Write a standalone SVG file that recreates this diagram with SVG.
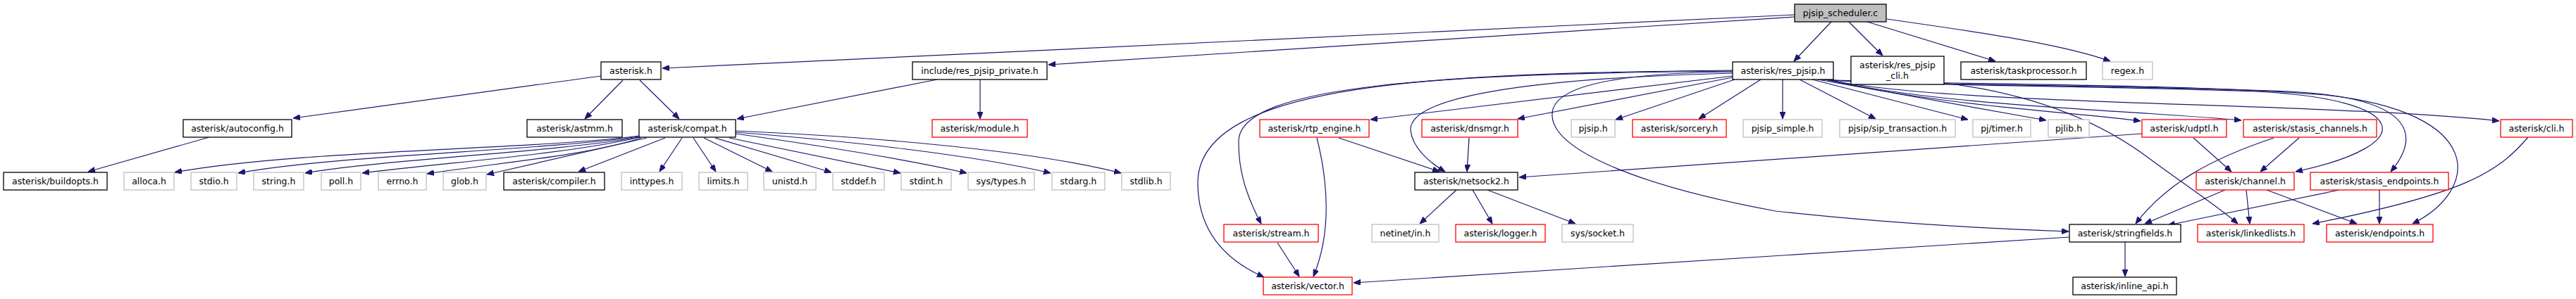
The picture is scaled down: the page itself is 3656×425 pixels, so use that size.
<svg xmlns="http://www.w3.org/2000/svg" width="3656" height="425" viewBox="0 0 3656 425">
<style>
text{font-family:"DejaVu Sans","Liberation Sans",sans-serif;font-size:12.5px;text-anchor:middle;fill:#000}
rect{fill:#fff;stroke-width:1.3}
.k rect{stroke:#000}
.g rect{stroke:#bfbfbf}
.r rect{stroke:#ff0000}
.root rect{fill:#bfbfbf;stroke:#000}
#edges path{fill:none;stroke:#191970;stroke-width:1.2;marker-end:url(#a)}
</style>
<defs>
<marker id="a" markerWidth="10" markerHeight="8" refX="10" refY="4" orient="auto" markerUnits="userSpaceOnUse"><path d="M0,0 L10,4 L0,8 z" fill="#191970" stroke="#191970" stroke-width="1"/></marker>
</defs>
<rect x="0" y="0" width="3656" height="425" style="fill:#fff;stroke:none"/>
<g id="edges">
<path d="M2547,21 L940,97"/>
<path d="M2547,24 L1488,92"/>
<path d="M2599,31 L2546,87"/>
<path d="M2624,31 L2672,79"/>
<path d="M2650,31 L2832,87"/>
<path d="M2678,27 C2780,42 2920,60 2995,87"/>
<path d="M853,108 L416,168"/>
<path d="M884,114 L830,169"/>
<path d="M908,114 L964,169"/>
<path d="M1330,113 L1046,169"/>
<path d="M1391,113 L1391,169"/>
<path d="M297,195 L125,244"/>
<path d="M907,193 C760,213 420,213 248,245"/>
<path d="M907,194 C760,215 480,220 338,246"/>
<path d="M907,195 C780,217 560,225 433,246"/>
<path d="M908,195 C800,220 640,230 514,246"/>
<path d="M910,196 C830,222 700,232 606,247"/>
<path d="M918,196 L691,248"/>
<path d="M944,196 L821,244"/>
<path d="M968,196 L936,244"/>
<path d="M984,196 L1016,244"/>
<path d="M999,196 L1096,244"/>
<path d="M1015,196 L1180,245"/>
<path d="M1035,196 L1278,246"/>
<path d="M1044,190 C1150,205 1280,225 1372,246"/>
<path d="M1044,188 C1200,200 1380,220 1491,246"/>
<path d="M1044,186 C1250,195 1470,215 1591,246"/>
<path d="M2459,108 L1945,170"/>
<path d="M2459,110 L2154,169"/>
<path d="M2462,113 L2293,170"/>
<path d="M2499,113 L2411,169"/>
<path d="M2530,113 L2530,169"/>
<path d="M2554,113 L2662,169"/>
<path d="M2572,113 L2793,170"/>
<path d="M2580,113 L2904,171"/>
<path d="M2590,113 C2750,150 2950,160 3038,172"/>
<path d="M2593,113 C2750,150 3000,155 3181,171"/>
<path d="M2595,113 C2750,150 3300,145 3547,172"/>
<path d="M2585,113 C2700,122 3000,122 3200,130 C3420,140 3440,205 3258,244"/>
<path d="M2585,113 C2700,122 3000,120 3250,130 C3440,140 3430,200 3393,244"/>
<path d="M2585,113 C2700,120 3100,118 3300,135 C3530,160 3520,270 3424,318"/>
<path d="M2459,104 C2150,112 2000,140 2002,185 C2004,210 2030,232 2051,244"/>
<path d="M2459,102 C2280,104 2200,125 2203,165 C2206,215 2330,265 2520,300 C2700,320 2850,326 2936,329"/>
<path d="M2459,101 C2050,105 1760,120 1758,200 C1757,250 1775,290 1790,318"/>
<path d="M2459,100 C2050,104 1700,115 1700,260 C1700,330 1740,370 1794,394"/>
<path d="M2759,118 C2900,135 2990,180 3050,225 C3100,262 3150,295 3176,318"/>
<path d="M3040,190 C2700,215 2400,236 2156,252"/>
<path d="M3113,196 L3167,244"/>
<path d="M3263,196 L3208,244"/>
<path d="M3227,196 C3140,225 3075,260 3031,318"/>
<path d="M3158,270 L3044,318"/>
<path d="M3320,270 L3077,320"/>
<path d="M3188,270 L3193,318"/>
<path d="M3217,270 L3345,318"/>
<path d="M3377,270 L3377,318"/>
<path d="M3588,195 C3545,245 3500,275 3282,318"/>
<path d="M3016,344 L3016,393"/>
<path d="M2937,337 L1921,402"/>
<path d="M1900,196 L2043,244"/>
<path d="M1869,196 C1885,260 1890,330 1864,393"/>
<path d="M2085,196 L2082,244"/>
<path d="M1813,345 L1844,393"/>
<path d="M2067,270 L2015,318"/>
<path d="M2090,270 L2118,318"/>
<path d="M2111,270 L2236,318"/>
</g>
<g id="pjsip_scheduler_c" class="root"><rect x="2547" y="6" width="130" height="25"/><text x="2612" y="23">pjsip_scheduler.c</text></g>
<g id="asterisk_h" class="k"><rect x="853" y="88" width="85" height="25"/><text x="895.5" y="105">asterisk.h</text></g>
<g id="res_pjsip_private_h" class="k"><rect x="1295" y="88" width="191" height="25"/><text x="1390.5" y="105">include/res_pjsip_private.h</text></g>
<g id="res_pjsip_h" class="k"><rect x="2459" y="88" width="143" height="25"/><text x="2530.5" y="105">asterisk/res_pjsip.h</text></g>
<g id="res_pjsip_cli_h" class="k"><rect x="2627" y="80" width="132" height="40"/><text x="2693" y="97">asterisk/res_pjsip</text><text x="2693" y="112">_cli.h</text></g>
<g id="taskprocessor_h" class="k"><rect x="2783" y="88" width="178" height="25"/><text x="2872" y="105">asterisk/taskprocessor.h</text></g>
<g id="regex_h" class="g"><rect x="2984" y="88" width="71" height="25"/><text x="3019.5" y="105">regex.h</text></g>
<g id="autoconfig_h" class="k"><rect x="260" y="170" width="154" height="25"/><text x="337" y="187">asterisk/autoconfig.h</text></g>
<g id="astmm_h" class="k"><rect x="748" y="170" width="135" height="25"/><text x="815.5" y="187">asterisk/astmm.h</text></g>
<g id="compat_h" class="k"><rect x="907" y="170" width="137" height="25"/><text x="975.5" y="187">asterisk/compat.h</text></g>
<g id="module_h" class="r"><rect x="1323" y="170" width="135" height="25"/><text x="1390.5" y="187">asterisk/module.h</text></g>
<g id="rtp_engine_h" class="r"><rect x="1788" y="170" width="155" height="25"/><text x="1865.5" y="187">asterisk/rtp_engine.h</text></g>
<g id="dnsmgr_h" class="r"><rect x="2018" y="170" width="136" height="25"/><text x="2086" y="187">asterisk/dnsmgr.h</text></g>
<g id="pjsip_h" class="g"><rect x="2230" y="170" width="62" height="25"/><text x="2261" y="187">pjsip.h</text></g>
<g id="sorcery_h" class="r"><rect x="2317" y="170" width="133" height="25"/><text x="2383.5" y="187">asterisk/sorcery.h</text></g>
<g id="pjsip_simple_h" class="g"><rect x="2474" y="170" width="112" height="25"/><text x="2530" y="187">pjsip_simple.h</text></g>
<g id="sip_transaction_h" class="g"><rect x="2611" y="170" width="164" height="25"/><text x="2693" y="187">pjsip/sip_transaction.h</text></g>
<g id="timer_h" class="g"><rect x="2800" y="170" width="82" height="25"/><text x="2841" y="187">pj/timer.h</text></g>
<g id="pjlib_h" class="g"><rect x="2907" y="170" width="58" height="25"/><text x="2936" y="187">pjlib.h</text></g>
<g id="udptl_h" class="r"><rect x="3040" y="170" width="120" height="25"/><text x="3100" y="187">asterisk/udptl.h</text></g>
<g id="stasis_channels_h" class="r"><rect x="3184" y="170" width="189" height="25"/><text x="3278.5" y="187">asterisk/stasis_channels.h</text></g>
<g id="cli_h" class="r"><rect x="3549" y="170" width="102" height="25"/><text x="3600" y="187">asterisk/cli.h</text></g>
<g id="buildopts_h" class="k"><rect x="5" y="245" width="147" height="25"/><text x="78.5" y="262">asterisk/buildopts.h</text></g>
<g id="alloca_h" class="g"><rect x="176" y="245" width="71" height="25"/><text x="211.5" y="262">alloca.h</text></g>
<g id="stdio_h" class="g"><rect x="271" y="245" width="65" height="25"/><text x="303.5" y="262">stdio.h</text></g>
<g id="string_h" class="g"><rect x="360" y="245" width="71" height="25"/><text x="395.5" y="262">string.h</text></g>
<g id="poll_h" class="g"><rect x="456" y="245" width="56" height="25"/><text x="484" y="262">poll.h</text></g>
<g id="errno_h" class="g"><rect x="537" y="245" width="68" height="25"/><text x="571" y="262">errno.h</text></g>
<g id="glob_h" class="g"><rect x="629" y="245" width="61" height="25"/><text x="659.5" y="262">glob.h</text></g>
<g id="compiler_h" class="k"><rect x="715" y="245" width="143" height="25"/><text x="786.5" y="262">asterisk/compiler.h</text></g>
<g id="inttypes_h" class="g"><rect x="882" y="245" width="86" height="25"/><text x="925" y="262">inttypes.h</text></g>
<g id="limits_h" class="g"><rect x="992" y="245" width="69" height="25"/><text x="1026.5" y="262">limits.h</text></g>
<g id="unistd_h" class="g"><rect x="1084" y="245" width="74" height="25"/><text x="1121" y="262">unistd.h</text></g>
<g id="stddef_h" class="g"><rect x="1182" y="245" width="73" height="25"/><text x="1218.5" y="262">stddef.h</text></g>
<g id="stdint_h" class="g"><rect x="1279" y="245" width="71" height="25"/><text x="1314.5" y="262">stdint.h</text></g>
<g id="sys_types_h" class="g"><rect x="1374" y="245" width="94" height="25"/><text x="1421" y="262">sys/types.h</text></g>
<g id="stdarg_h" class="g"><rect x="1493" y="245" width="75" height="25"/><text x="1530.5" y="262">stdarg.h</text></g>
<g id="stdlib_h" class="g"><rect x="1592" y="245" width="69" height="25"/><text x="1626.5" y="262">stdlib.h</text></g>
<g id="netsock2_h" class="k"><rect x="2008" y="245" width="146" height="25"/><text x="2081" y="262">asterisk/netsock2.h</text></g>
<g id="channel_h" class="r"><rect x="3117" y="245" width="139" height="25"/><text x="3186.5" y="262">asterisk/channel.h</text></g>
<g id="stasis_endpoints_h" class="r"><rect x="3279" y="245" width="196" height="25"/><text x="3377" y="262">asterisk/stasis_endpoints.h</text></g>
<g id="stream_h" class="r"><rect x="1737" y="319" width="134" height="25"/><text x="1804" y="336">asterisk/stream.h</text></g>
<g id="netinet_in_h" class="g"><rect x="1947" y="319" width="95" height="25"/><text x="1994.5" y="336">netinet/in.h</text></g>
<g id="logger_h" class="r"><rect x="2066" y="319" width="127" height="25"/><text x="2129.5" y="336">asterisk/logger.h</text></g>
<g id="sys_socket_h" class="g"><rect x="2217" y="319" width="101" height="25"/><text x="2267.5" y="336">sys/socket.h</text></g>
<g id="stringfields_h" class="k"><rect x="2937" y="319" width="158" height="25"/><text x="3016" y="336">asterisk/stringfields.h</text></g>
<g id="linkedlists_h" class="r"><rect x="3119" y="319" width="151" height="25"/><text x="3194.5" y="336">asterisk/linkedlists.h</text></g>
<g id="endpoints_h" class="r"><rect x="3302" y="319" width="151" height="25"/><text x="3377.5" y="336">asterisk/endpoints.h</text></g>
<g id="vector_h" class="r"><rect x="1793" y="394" width="126" height="25"/><text x="1856" y="411">asterisk/vector.h</text></g>
<g id="inline_api_h" class="k"><rect x="2942" y="394" width="147" height="25"/><text x="3015.5" y="411">asterisk/inline_api.h</text></g>
</svg>
